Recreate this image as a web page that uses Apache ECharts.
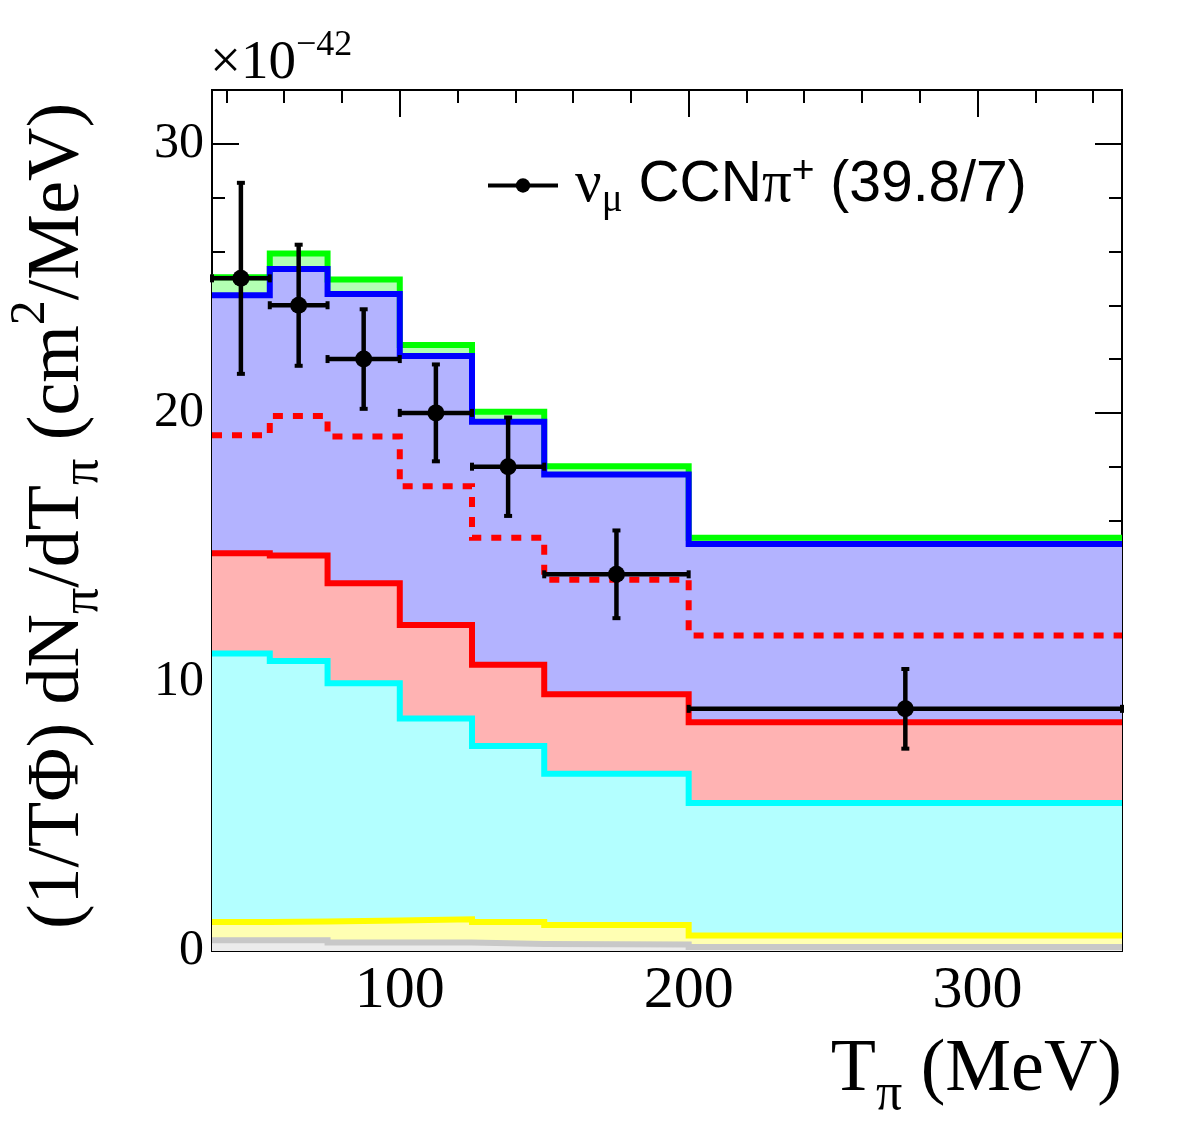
<!DOCTYPE html>
<html>
<head>
<meta charset="utf-8">
<script src="https://cdn.jsdelivr.net/npm/echarts@6/dist/echarts.min.js"></script>
<style>
  html, body { margin: 0; padding: 0; background: #fff; }
  #chart { width: 1182px; height: 1134px; }
</style>
</head>
<body>
<div id="chart"></div>
<script>
// bin edges in T_pi (MeV)
const binEdges = [35, 55, 75, 100, 125, 150, 200, 350];

// cumulative tops of the stacked components (x1e-42 cm^2/MeV)
const grayTop = [0.40, 0.40, 0.32, 0.32, 0.26, 0.24, 0.15];
const yellowTop = [1.08, 1.10, 1.13, 1.18, 1.08, 0.97, 0.58];
const cyanTop = [11.06, 10.78, 9.95, 8.64, 7.62, 6.59, 5.50];
const redTop = [14.78, 14.70, 13.67, 12.12, 10.64, 9.54, 8.50];
const blueTop = [24.37, 25.35, 24.42, 22.11, 19.67, 17.71, 15.13];
const greenTop = [25.04, 25.92, 24.96, 22.52, 20.04, 18.02, 15.36];
// red dashed curve
const dashedVals = [19.17, 19.88, 19.12, 17.27, 15.36, 13.80, 11.73];

// data points
const dataX = [45, 65, 87.5, 112.5, 137.5, 175, 275];
const dataY = [25.0, 24.0, 22.0, 20.0, 18.0, 14.0, 9.0];
const dataErr = [3.55, 2.25, 1.85, 1.80, 1.83, 1.63, 1.48];

// tick values
const xMajor = [100, 200, 300];
const xMinor = [40, 60, 80, 120, 140, 160, 180, 220, 240, 260, 280, 320, 340];
const yMajor = [0, 10, 20, 30];
const yMinor = [2, 4, 6, 8, 12, 14, 16, 18, 22, 24, 26, 28];

const dataName = 'νμ CCNπ+ (39.8/7)';

const layers = [
  { vals: greenTop, line: '#00ff00', fill: '#b3ffb3' },
  { vals: blueTop, line: '#0000ff', fill: '#b3b3ff' },
  { vals: redTop, line: '#ff0000', fill: '#ffb3b3' },
  { vals: cyanTop, line: '#00ffff', fill: '#b3ffff' },
  { vals: yellowTop, line: '#ffff00', fill: '#ffffb3' },
  { vals: grayTop, line: '#c8c8c8', fill: '#ececec' },
];

const serif = 'Liberation Serif';
const sans = 'Liberation Sans';

function histPoints(vals) {
  const pts = vals.map((v, i) => [binEdges[i], v]);
  pts.push([binEdges[binEdges.length - 1], vals[vals.length - 1]]);
  return pts;
}

function xAxis(position, ticks, len, labels) {
  return {
    type: 'value', min: 35, max: 350, position: position,
    axisLine: { show: true, onZero: false, lineStyle: { color: '#000', width: 2 } },
    axisTick: { show: true, inside: true, length: len, customValues: ticks, lineStyle: { color: '#000', width: 2 } },
    axisLabel: {
      show: labels, customValues: ticks, margin: 40, verticalAlign: 'middle',
      fontFamily: serif, fontSize: 60, color: '#000'
    },
    splitLine: { show: false }
  };
}

function yAxis(position, ticks, len, labels) {
  return {
    type: 'value', min: 0, max: 32, position: position,
    axisLine: { show: true, onZero: false, lineStyle: { color: '#000', width: 2 } },
    axisTick: { show: true, inside: true, length: len, customValues: ticks, lineStyle: { color: '#000', width: 2 } },
    axisLabel: {
      show: labels, customValues: ticks, margin: 8,
      fontFamily: serif, fontSize: 50, color: '#000'
    },
    splitLine: { show: false }
  };
}

const series = [];
layers.forEach((l) => {
  series.push({
    type: 'line', step: 'end', data: histPoints(l.vals),
    symbol: 'none', silent: true, z: 2,
    lineStyle: { color: l.line, width: 6, join: 'miter' },
    areaStyle: { color: l.fill, opacity: 1 }
  });
});
series.push({
  type: 'line', step: 'end', data: histPoints(dashedVals),
  symbol: 'none', silent: true, z: 3,
  lineStyle: { color: '#ff0000', width: 6, type: [10, 10], join: 'miter' }
});
series.push({
  type: 'custom', silent: true, z: 4,
  data: dataX.map((x, i) => [x, dataY[i], binEdges[i], binEdges[i + 1], dataErr[i]]),
  renderItem: (params, api) => {
    const x = api.value(0), y = api.value(1), lo = api.value(2), hi = api.value(3), e = api.value(4);
    const l = api.coord([lo, y]), r = api.coord([hi, y]);
    const t = api.coord([x, y + e]), b = api.coord([x, y - e]);
    const st = { stroke: '#000', lineWidth: 4.5 };
    const cap = { stroke: '#000', lineWidth: 4 };
    return {
      type: 'group',
      children: [
        { type: 'line', shape: { x1: l[0], y1: l[1], x2: r[0], y2: r[1] }, style: st },
        { type: 'line', shape: { x1: t[0], y1: t[1], x2: b[0], y2: b[1] }, style: st },
        { type: 'line', shape: { x1: t[0] - 4, y1: t[1], x2: t[0] + 4, y2: t[1] }, style: cap },
        { type: 'line', shape: { x1: b[0] - 4, y1: b[1], x2: b[0] + 4, y2: b[1] }, style: cap },
        { type: 'line', shape: { x1: l[0], y1: l[1] - 4, x2: l[0], y2: l[1] + 4 }, style: cap },
        { type: 'line', shape: { x1: r[0], y1: r[1] - 4, x2: r[0], y2: r[1] + 4 }, style: cap }
      ]
    };
  }
});
series.push({
  name: dataName, type: 'line', silent: true, z: 5,
  data: dataX.map((x, i) => [x, dataY[i]]),
  symbol: 'circle', symbolSize: 17, showSymbol: true,
  itemStyle: { color: '#000' },
  lineStyle: { width: 0, color: '#000' }
});

const chart = echarts.init(document.getElementById('chart'));
chart.setOption({
  animation: false,
  backgroundColor: '#fff',
  grid: { left: 212, right: 60, top: 90, bottom: 183, outerBoundsMode: 'none' },
  xAxis: [
    xAxis('bottom', xMajor, 27, true),
    xAxis('bottom', xMinor, 13, false),
    xAxis('top', xMajor, 27, false),
    xAxis('top', xMinor, 13, false)
  ],
  yAxis: [
    yAxis('left', yMajor, 27, true),
    yAxis('left', yMinor, 13, false),
    yAxis('right', yMajor, 27, false),
    yAxis('right', yMinor, 13, false)
  ],
  legend: {
    data: [dataName],
    left: 481, top: 147,
    itemWidth: 70, itemHeight: 18,
    lineStyle: { width: 4, color: '#000', opacity: 1 },
    itemStyle: { color: '#000' },
    formatter: () => '{g|ν}{sub|μ}{a| CCN}{g|π}{sup|+}{a| (39.8/7)}',
    textStyle: {
      color: '#000', fontFamily: sans, fontSize: 57, padding: [0, 0, 0, 12],
      rich: {
        a: { fontFamily: sans, fontSize: 57, color: '#000' },
        g: { fontFamily: serif, fontSize: 59, color: '#000' },
        sub: { fontFamily: serif, fontSize: 39, color: '#000', padding: [30, 0, 0, 0] },
        sup: { fontFamily: sans, fontSize: 39, color: '#000', padding: [0, 0, 28, 0] }
      }
    }
  },
  graphic: [
    {
      type: 'text', x: 210, y: 64,
      style: {
        text: '{a|×10}{sup|−42}', verticalAlign: 'middle', align: 'left',
        rich: {
          a: { fontFamily: serif, fontSize: 55, fill: '#000' },
          sup: { fontFamily: serif, fontSize: 36, fill: '#000', padding: [0, 0, 36, 0] }
        }
      }
    },
    {
      type: 'text', x: 1122, y: 1071,
      style: {
        text: '{a|T}{sub|π}{a| (MeV)}', verticalAlign: 'middle', align: 'right',
        rich: {
          a: { fontFamily: serif, fontSize: 74, fill: '#000' },
          sub: { fontFamily: serif, fontSize: 52, fill: '#000', padding: [48, 0, 0, 0] }
        }
      }
    },
    {
      type: 'text', x: 59, y: 516, rotation: Math.PI / 2,
      style: {
        text: '{a|(1/TΦ) dN}{sub|π}{a|/dT}{sub|π}{a| (cm}{sup|2}{a|/MeV)}',
        verticalAlign: 'middle', align: 'center',
        rich: {
          a: { fontFamily: serif, fontSize: 74, fill: '#000' },
          sub: { fontFamily: serif, fontSize: 52, fill: '#000', padding: [48, 0, 0, 0] },
          sup: { fontFamily: serif, fontSize: 50, fill: '#000', padding: [0, 0, 56, 0] }
        }
      }
    }
  ],
  series: series
});
</script>
</body>
</html>
